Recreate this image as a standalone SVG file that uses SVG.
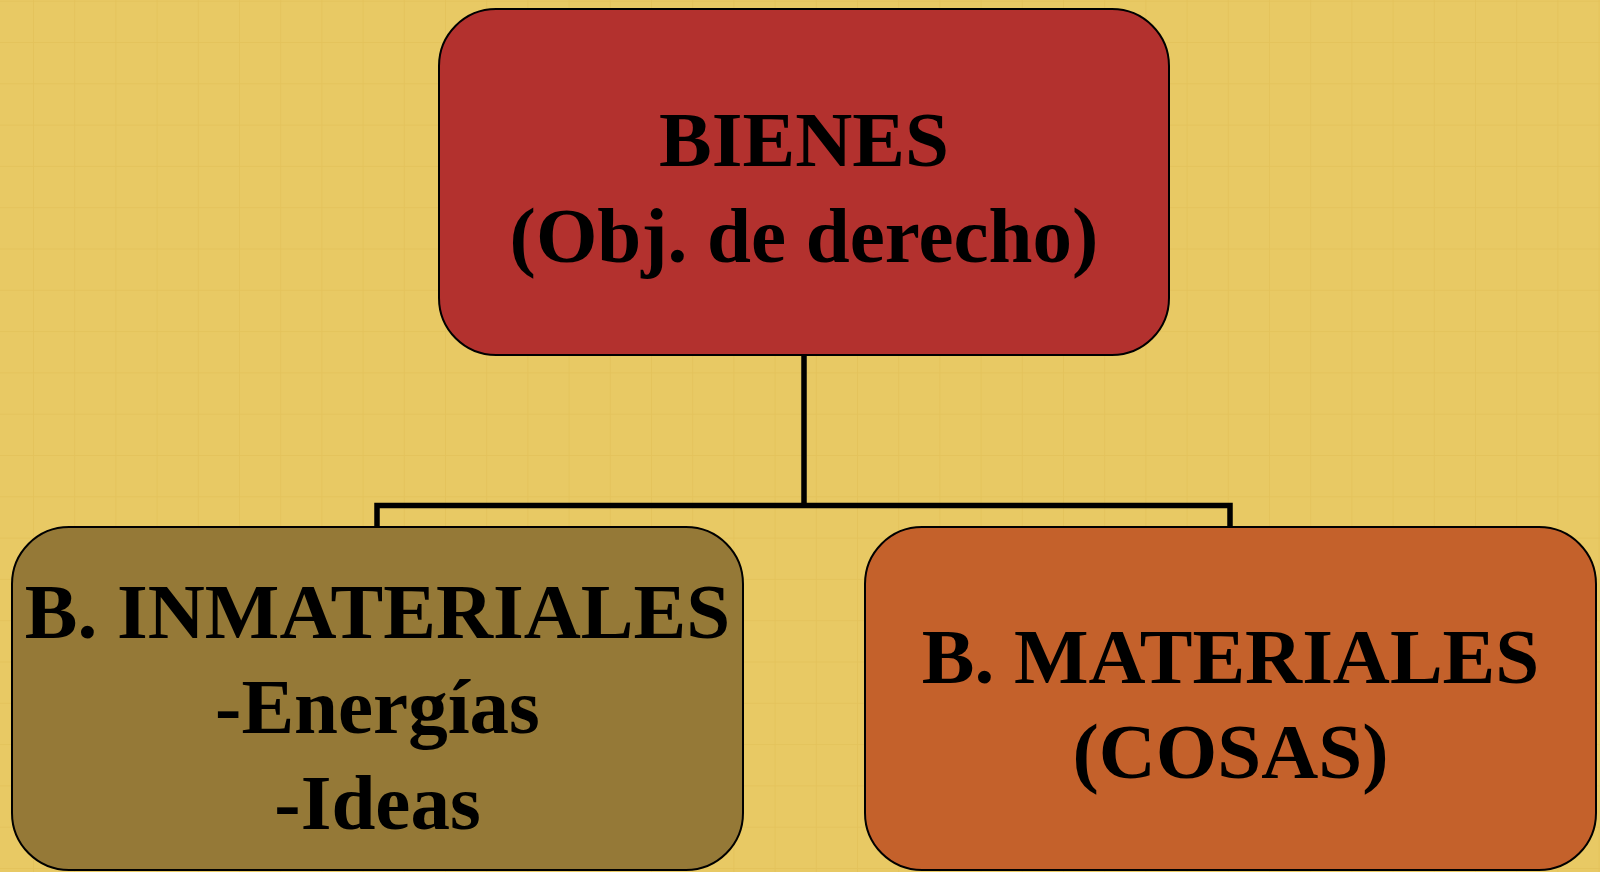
<svg xmlns="http://www.w3.org/2000/svg" width="1600" height="872" viewBox="0 0 1600 872">
  <defs>
    <pattern id="grid" patternUnits="userSpaceOnUse" x="33" y="42" width="41.2" height="41.3">
      <rect x="0" y="0" width="41.2" height="41.3" fill="#E8C964"/>
      <rect x="-0.8" y="0" width="1.6" height="41.3" fill="#E4C25A"/>
      <rect x="0" y="-0.8" width="41.2" height="1.6" fill="#E4C25A"/>
    </pattern>
    <style>
      .box { stroke: #000; stroke-width: 2; }
      .lbl { font-family: "Liberation Serif", "Times New Roman", serif; font-weight: bold; font-size: 79px; fill: #000; text-anchor: middle; }
      .conn { fill: none; stroke: #000; stroke-width: 5.5; stroke-linejoin: miter; stroke-linecap: butt; }
    </style>
  </defs>
  <rect x="0" y="0" width="1600" height="872" fill="url(#grid)"/>

  <g id="connectors">
    <line class="conn" x1="804" y1="355" x2="804" y2="506"/>
    <polyline class="conn" points="377,527 377,505.5 1230,505.5 1230,527"/>
  </g>

  <g id="node-bienes">
    <rect class="box" x="439" y="9" width="730" height="346" rx="57" ry="57" fill="#B3312E"/>
    <text class="lbl" x="804" y="166">BIENES</text>
    <text class="lbl" x="804" y="262">(Obj. de derecho)</text>
  </g>

  <g id="node-inmateriales">
    <rect class="box" x="12" y="527" width="731" height="343" rx="57" ry="57" fill="#957937"/>
    <text class="lbl" x="377.5" y="638">B. INMATERIALES</text>
    <text class="lbl" x="377.5" y="733">-Energías</text>
    <text class="lbl" x="377.5" y="829">-Ideas</text>
  </g>

  <g id="node-materiales">
    <rect class="box" x="865" y="527" width="731" height="343" rx="57" ry="57" fill="#C4612B"/>
    <text class="lbl" x="1230.5" y="683">B. MATERIALES</text>
    <text class="lbl" x="1230.5" y="778">(COSAS)</text>
  </g>
</svg>
